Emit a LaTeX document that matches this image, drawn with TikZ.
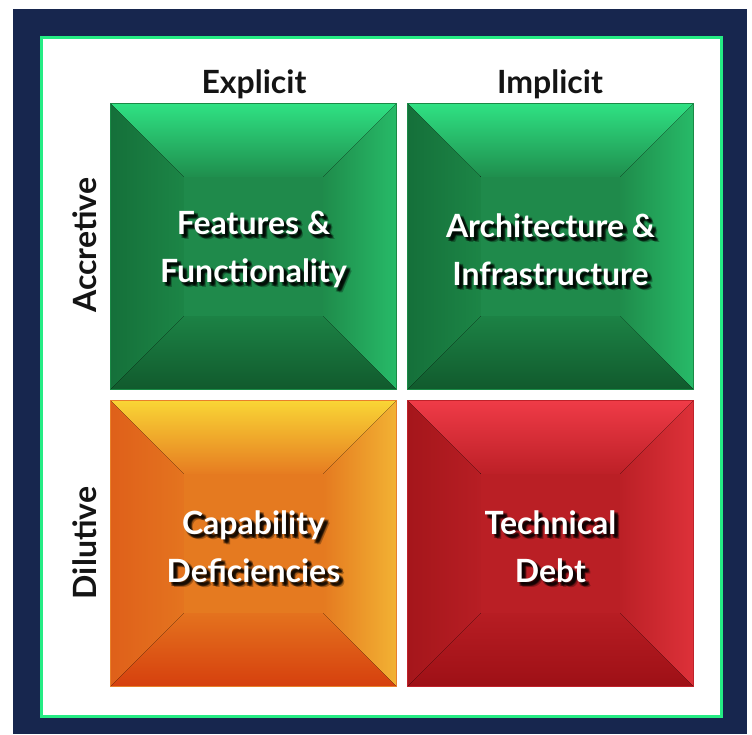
\documentclass[tikz,border=0pt]{standalone}
\usepackage{fontspec}
\setmainfont{Lato}
\usetikzlibrary{calc}

\definecolor{navy}{HTML}{17264E}
\definecolor{rim}{HTML}{25EC84}
% green
\definecolor{grtop}{HTML}{2FE183}
\definecolor{grtopin}{HTML}{1F8E4D}
\definecolor{grleft}{HTML}{15703A}
\definecolor{grleftin}{HTML}{1C8546}
\definecolor{grright}{HTML}{27BA68}
\definecolor{grrightin}{HTML}{1F8C4B}
\definecolor{grbot}{HTML}{115A2D}
\definecolor{grbotin}{HTML}{1C8245}
\definecolor{grmid}{HTML}{1F8A4B}
\definecolor{grline}{HTML}{1A8A46}
% orange
\definecolor{ortop}{HTML}{F9D535}
\definecolor{ortopin}{HTML}{E67C21}
\definecolor{orleft}{HTML}{DF601A}
\definecolor{orleftin}{HTML}{E4741F}
\definecolor{orright}{HTML}{F2B233}
\definecolor{orrightin}{HTML}{E57A20}
\definecolor{orbot}{HTML}{D6400E}
\definecolor{orbotin}{HTML}{E4721E}
\definecolor{ormid}{HTML}{E57A20}
\definecolor{orline}{HTML}{E8802A}
% red
\definecolor{rdtop}{HTML}{EF3B47}
\definecolor{rdtopin}{HTML}{BD2027}
\definecolor{rdleft}{HTML}{A5161B}
\definecolor{rdleftin}{HTML}{B71E24}
\definecolor{rdright}{HTML}{DD3139}
\definecolor{rdrightin}{HTML}{BB2026}
\definecolor{rdbot}{HTML}{9E1016}
\definecolor{rdbotin}{HTML}{B71D23}
\definecolor{rdmid}{HTML}{BA1F25}
\definecolor{rdline}{HTML}{C0222A}

\tikzset{
  quad/.style={minimum size=285pt, inner sep=0pt, fill=#1mid},
  quadlbl/.style={text=white, align=center, inner sep=0pt, font=\fontsize{32}{48}\selectfont\bfseries},
  heading/.style={anchor=base, inner sep=0pt, text=black!92, font=\fontsize{32}{36}\selectfont\bfseries},
}

\newcommand{\bevelquad}[4]{%
  \node[quad=#4] (#1) at (#2+142.5,#3+142.5) {};
  \fill[top color=#4top, bottom color=#4topin] (#1.north west) -- (#1.north east) -- ($(#1.north east)+(-73,73)$) -- ($(#1.north west)+(73,73)$) -- cycle;
  \fill[left color=#4left, right color=#4leftin] (#1.north west) -- ($(#1.north west)+(73,73)$) -- ($(#1.south west)+(73,-73)$) -- (#1.south west) -- cycle;
  \fill[left color=#4rightin, right color=#4right] (#1.north east) -- (#1.south east) -- ($(#1.south east)+(-73,-73)$) -- ($(#1.north east)+(-73,73)$) -- cycle;
  \fill[top color=#4botin, bottom color=#4bot] (#1.south west) -- ($(#1.south west)+(73,-73)$) -- ($(#1.south east)+(-73,-73)$) -- (#1.south east) -- cycle;
  \draw[#4line, line width=.8pt] (#1.north west) rectangle (#1.south east);
}
\newcommand{\quadtext}[3]{%
  \foreach \dx/\dy in {2/2,3/3,4/4,2/4,4/2,3/4,4/3,5/5}
    \node[quadlbl, text=black, text opacity=.28] at ($(#2)+(\dx,\dy+3)$) {#3};
  \node[quadlbl] (#1) at ($(#2)+(0,3)$) {#3};
}

\begin{document}
\begin{tikzpicture}[x=1pt, y=-1pt]
  \useasboundingbox (0,0) rectangle (752,734);
  \fill[white] (0,0) rectangle (752,734);
  \fill[navy] (13,9) rectangle (747,734);
  \filldraw[fill=white, draw=rim, line width=3pt] (41,37) rectangle (721,716);

  \node[heading] (explicit) at (254,93) {Explicit};
  \node[heading] (implicit) at (550,93) {Implicit};
  \node[heading, rotate=90] (accretive) at (96,245) {Accretive};
  \node[heading, rotate=90] (dilutive) at (96,543) {Dilutive};

  \bevelquad{feat}{111}{104}{gr}
  \bevelquad{arch}{408}{104}{gr}
  \bevelquad{capab}{111}{401}{or}
  \bevelquad{debt}{408}{401}{rd}

  \quadtext{featlbl}{feat}{Features \&\\Functionality}
  \quadtext{archlbl}{arch}{Architecture \&\\Infrastructure}
  \quadtext{capablbl}{capab}{Capability\\Deficiencies}
  \quadtext{debtlbl}{debt}{Technical\\Debt}
\end{tikzpicture}
\end{document}
